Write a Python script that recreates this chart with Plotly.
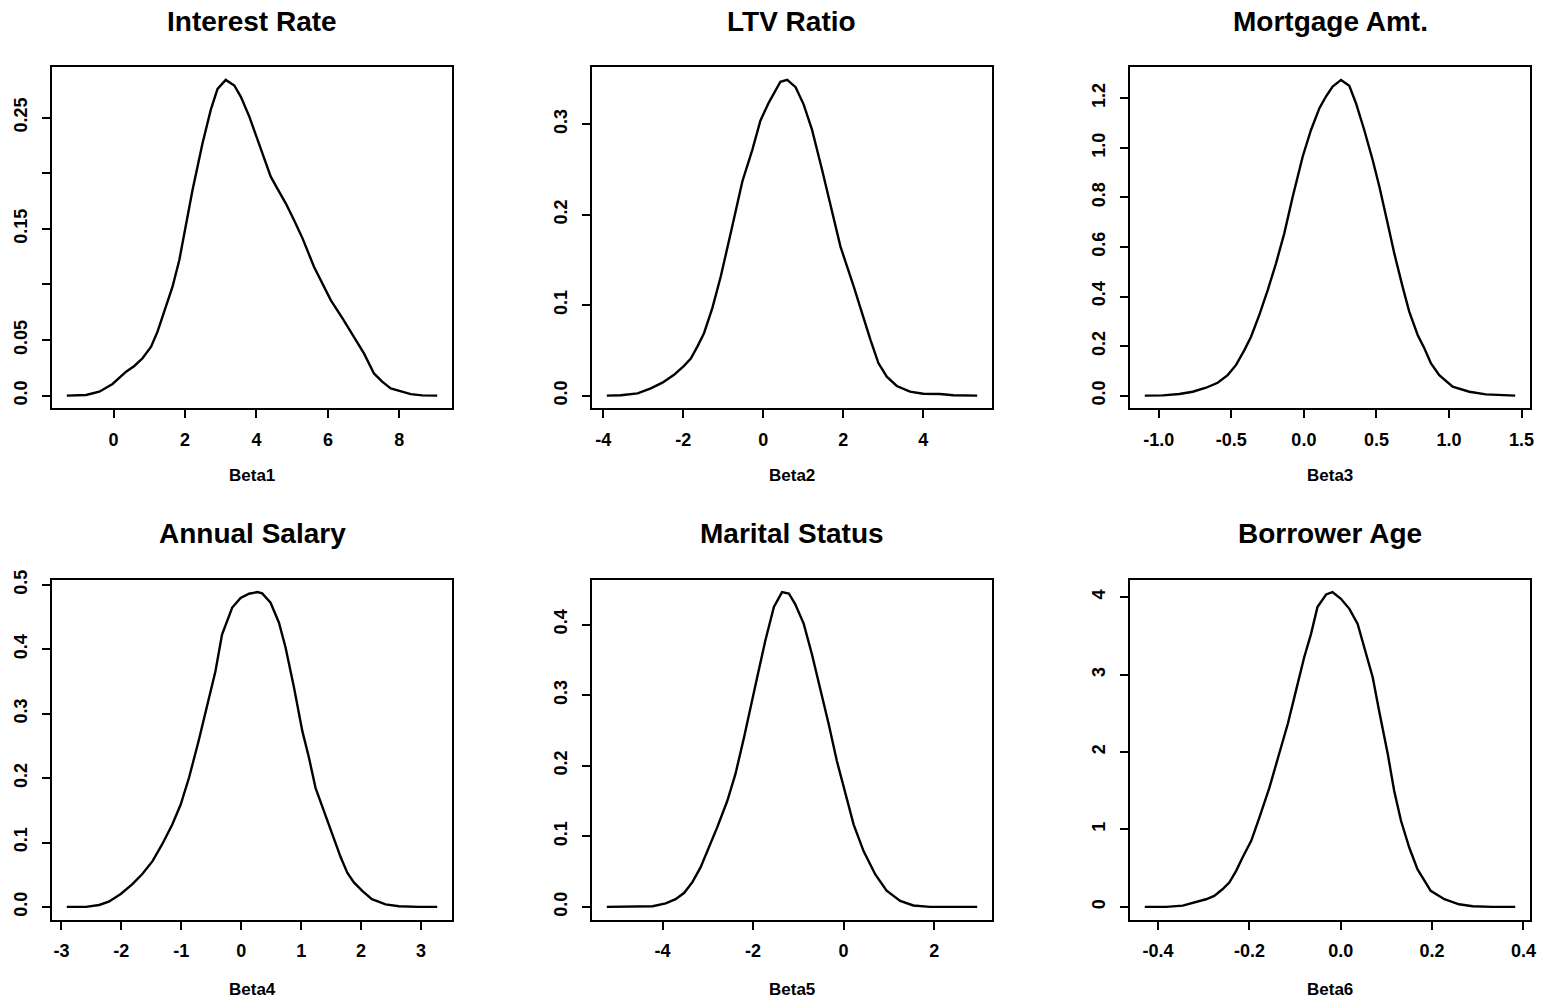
import plotly.graph_objects as go

# ---------------- data ----------------
titles = ["Interest Rate", "LTV Ratio", "Mortgage Amt.",
          "Annual Salary", "Marital Status", "Borrower Age"]
xlabels = ["Beta1", "Beta2", "Beta3", "Beta4", "Beta5", "Beta6"]

beta1_x = [-1.31, -0.77, -0.40, -0.03, 0.35, 0.58, 0.81, 1.05, 1.23, 1.46, 1.65, 1.84,
           2.02, 2.21, 2.49, 2.72, 2.91, 3.14, 3.38, 3.56, 3.80, 4.03, 4.22, 4.40,
           4.59, 4.82, 5.05, 5.29, 5.61, 5.85, 6.08, 6.41, 6.73, 7.01, 7.29, 7.52,
           7.76, 8.04, 8.32, 8.64, 9.06]
beta1_y = [0.0, 0.0006, 0.0036, 0.0105, 0.0216, 0.0267, 0.0336, 0.044, 0.0576, 0.080,
           0.098, 0.122, 0.152, 0.185, 0.227, 0.257, 0.276, 0.284, 0.279, 0.269, 0.251,
           0.231, 0.213, 0.197, 0.186, 0.173, 0.158, 0.1415, 0.116, 0.101, 0.086, 0.0696,
           0.053, 0.038, 0.020, 0.0126, 0.0066, 0.0042, 0.0014, 0.0003, 0.0]

beta2_x = [-3.91, -3.56, -3.14, -2.81, -2.52, -2.23, -1.98, -1.81, -1.65, -1.48, -1.27,
           -1.06, -0.81, -0.52, -0.27, -0.07, 0.14, 0.43, 0.60, 0.81, 1.01, 1.22, 1.47,
           1.72, 1.93, 2.26, 2.47, 2.68, 2.88, 3.09, 3.34, 3.67, 4.00, 4.42, 4.75, 5.35]
beta2_y = [0.0, 0.0004, 0.0026, 0.008, 0.0144, 0.023, 0.033, 0.041, 0.054, 0.069, 0.097,
           0.132, 0.180, 0.237, 0.272, 0.304, 0.324, 0.347, 0.349, 0.341, 0.322, 0.294,
           0.250, 0.202, 0.165, 0.121, 0.091, 0.062, 0.036, 0.021, 0.0107, 0.0044, 0.0022,
           0.0018, 0.0004, 0.0]

beta3_x = [-1.096, -0.972, -0.858, -0.766, -0.674, -0.594, -0.525, -0.467, -0.410, -0.364,
           -0.307, -0.249, -0.192, -0.135, -0.077, -0.008, 0.049, 0.107, 0.152, 0.198,
           0.256, 0.313, 0.359, 0.416, 0.474, 0.520, 0.577, 0.623, 0.680, 0.726, 0.784,
           0.830, 0.876, 0.933, 1.025, 1.140, 1.254, 1.369, 1.456]
beta3_y = [0.0, 0.0013, 0.0067, 0.016, 0.032, 0.052, 0.083, 0.124, 0.184, 0.238, 0.326,
           0.426, 0.534, 0.655, 0.803, 0.965, 1.072, 1.160, 1.207, 1.247, 1.274, 1.250,
           1.180, 1.072, 0.951, 0.844, 0.696, 0.574, 0.440, 0.339, 0.245, 0.191, 0.130,
           0.083, 0.036, 0.016, 0.0054, 0.001, 0.0]

beta4_x = [-2.91, -2.59, -2.37, -2.21, -2.01, -1.82, -1.65, -1.48, -1.32, -1.15, -1.01,
           -0.87, -0.71, -0.54, -0.43, -0.32, -0.15, -0.01, 0.13, 0.27, 0.35, 0.49, 0.63,
           0.74, 0.88, 1.02, 1.13, 1.24, 1.38, 1.52, 1.66, 1.77, 1.88, 2.02, 2.18, 2.41,
           2.63, 2.96, 3.27]
beta4_y = [0.0, 0.0, 0.003, 0.008, 0.020, 0.035, 0.051, 0.071, 0.097, 0.128, 0.159, 0.201,
           0.258, 0.325, 0.366, 0.423, 0.465, 0.480, 0.4865, 0.489, 0.487, 0.4725, 0.4415,
           0.403, 0.341, 0.273, 0.232, 0.185, 0.149, 0.113, 0.077, 0.053, 0.038, 0.025,
           0.012, 0.004, 0.001, 0.0, 0.0]

beta5_x = [-5.23, -4.77, -4.22, -3.93, -3.71, -3.52, -3.34, -3.16, -2.97, -2.79, -2.57,
           -2.39, -2.20, -2.06, -1.91, -1.73, -1.54, -1.36, -1.21, -1.07, -0.88, -0.70,
           -0.52, -0.33, -0.15, 0.035, 0.22, 0.44, 0.70, 0.95, 1.25, 1.54, 1.91, 2.95]
beta5_y = [0.0, 0.0, 0.001, 0.005, 0.011, 0.020, 0.035, 0.056, 0.084, 0.113, 0.150, 0.188,
           0.240, 0.283, 0.325, 0.377, 0.425, 0.446, 0.444, 0.429, 0.401, 0.358, 0.311,
           0.259, 0.207, 0.160, 0.117, 0.079, 0.046, 0.023, 0.0085, 0.002, 0.0, 0.0]

beta6_x = [-0.429, -0.382, -0.346, -0.317, -0.295, -0.277, -0.259, -0.244, -0.229, -0.215,
           -0.196, -0.178, -0.156, -0.135, -0.116, -0.098, -0.080, -0.065, -0.051, -0.032,
           -0.018, 0.0004, 0.019, 0.037, 0.051, 0.070, 0.084, 0.103, 0.117, 0.132, 0.150,
           0.168, 0.197, 0.227, 0.259, 0.289, 0.332, 0.382]
beta6_y = [0.0, 0.0, 0.017, 0.065, 0.099, 0.142, 0.228, 0.315, 0.466, 0.638, 0.853, 1.155,
           1.543, 1.974, 2.362, 2.793, 3.224, 3.526, 3.871, 4.034, 4.065, 3.978, 3.849,
           3.655, 3.375, 2.966, 2.534, 1.974, 1.500, 1.112, 0.767, 0.487, 0.207, 0.099,
           0.034, 0.009, 0.0, 0.0]

x_tickvals = [[0, 2, 4, 6, 8], [-4, -2, 0, 2, 4], [-1.0, -0.5, 0.0, 0.5, 1.0, 1.5],
              [-3, -2, -1, 0, 1, 2, 3], [-4, -2, 0, 2], [-0.4, -0.2, 0.0, 0.2, 0.4]]
x_ticktext = [["0", "2", "4", "6", "8"], ["-4", "-2", "0", "2", "4"],
              ["-1.0", "-0.5", "0.0", "0.5", "1.0", "1.5"],
              ["-3", "-2", "-1", "0", "1", "2", "3"], ["-4", "-2", "0", "2"],
              ["-0.4", "-0.2", "0.0", "0.2", "0.4"]]
y_tickvals = [[0, 0.05, 0.10, 0.15, 0.20, 0.25], [0, 0.1, 0.2, 0.3],
              [0, 0.2, 0.4, 0.6, 0.8, 1.0, 1.2], [0, 0.1, 0.2, 0.3, 0.4, 0.5],
              [0, 0.1, 0.2, 0.3, 0.4], [0, 1, 2, 3, 4]]
y_ticktext = [["0.0", "0.05", "", "0.15", "", "0.25"], ["0.0", "0.1", "0.2", "0.3"],
              ["0.0", "0.2", "0.4", "0.6", "0.8", "1.0", "1.2"],
              ["0.0", "0.1", "0.2", "0.3", "0.4", "0.5"],
              ["0.0", "0.1", "0.2", "0.3", "0.4"], ["0", "1", "2", "3", "4"]]

series_x = [beta1_x, beta2_x, beta3_x, beta4_x, beta5_x, beta6_x]
series_y = [beta1_y, beta2_y, beta3_y, beta4_y, beta5_y, beta6_y]

# ---------------- layout ----------------
W, H = 1547, 999
col_px = [(52, 452), (592, 992), (1130, 1530)]
row_px = [(67.3, 408.3), (579.5, 919.5)]
title_py = [22, 533]
xlabel_py = [476, 989]

FONT = "Liberation Sans, Arial, Helvetica, sans-serif"
TICKFONT = dict(family=FONT, size=18, color="black", weight="bold")

fig = go.Figure()
layout = dict(width=W, height=H, margin=dict(l=0, r=0, t=0, b=0, autoexpand=False),
              paper_bgcolor="white", plot_bgcolor="white", showlegend=False,
              font=dict(family=FONT, color="black"))
annotations = []

for i in range(6):
    n = i + 1
    r, c = divmod(i, 3)
    xs, ys = series_x[i], series_y[i]
    fig.add_trace(go.Scatter(x=xs, y=ys, mode="lines",
                             line=dict(color="black", width=2.4),
                             xaxis=f"x{n}", yaxis=f"y{n}", hoverinfo="skip"))
    xmin, xmax = min(xs), max(xs)
    span = xmax - xmin
    ymax = max(ys)
    x0, x1 = col_px[c]
    y0, y1 = row_px[r]
    common = dict(showgrid=False, zeroline=False, showline=True, linewidth=2,
                  linecolor="black", mirror=True, ticks="outside", ticklen=8,
                  tickwidth=2, tickcolor="black", automargin=False, tickfont=TICKFONT)
    layout[f"xaxis{n}"] = dict(domain=[x0 / W, x1 / W], anchor=f"y{n}",
                               range=[xmin - 0.04 * span, xmax + 0.04 * span],
                               tickmode="array", tickvals=x_tickvals[i],
                               ticktext=x_ticktext[i], ticklabelstandoff=6, **common)
    layout[f"yaxis{n}"] = dict(domain=[1 - y1 / H, 1 - y0 / H], anchor=f"x{n}",
                               range=[-0.04 * ymax, 1.04 * ymax],
                               tickmode="array", tickvals=y_tickvals[i],
                               ticktext=y_ticktext[i], tickangle=-90,
                               ticklabelstandoff=8, **common)
    cx = (x0 + x1) / 2 / W
    annotations.append(dict(text=f"<b>{titles[i]}</b>", x=cx, y=1 - title_py[r] / H,
                            xref="paper", yref="paper", showarrow=False,
                            xanchor="center", yanchor="middle",
                            font=dict(family=FONT, size=28, color="black")))
    annotations.append(dict(text=f"<b>{xlabels[i]}</b>", x=cx, y=1 - xlabel_py[r] / H,
                            xref="paper", yref="paper", showarrow=False,
                            xanchor="center", yanchor="middle",
                            font=dict(family=FONT, size=17, color="black")))

layout["annotations"] = annotations
fig.update_layout(**layout)
fig.write_html("out.html")
